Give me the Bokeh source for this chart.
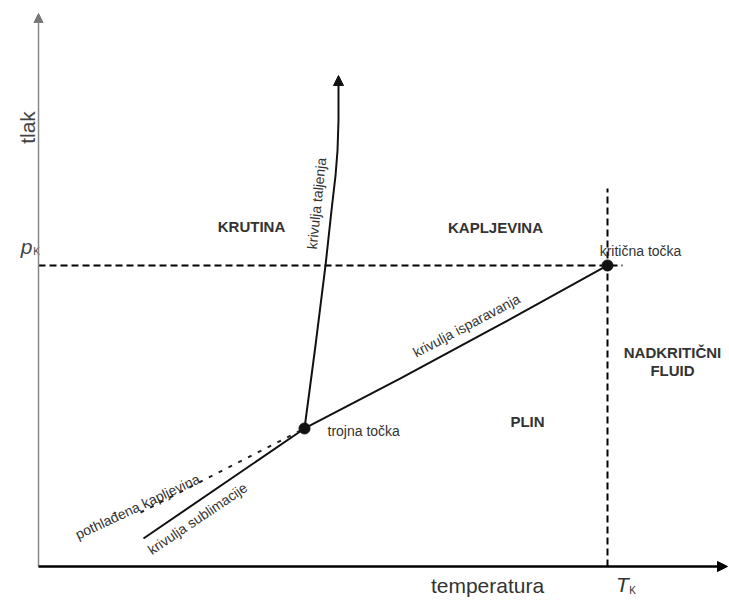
from bokeh.plotting import figure
from bokeh.models import Range1d, Arrow, NormalHead
from bokeh.core.properties import value
from bokeh.embed import file_html
from bokeh.resources import INLINE

# Normalised units: temperature T / T_K, pressure p / p_K
triple_T, triple_p = 0.4675, 0.4585
crit_T, crit_p = 1.0, 1.0

melt_T = [0.4675, 0.4868, 0.5044, 0.5149, 0.5220, 0.5255, 0.5272, 0.5272]
melt_p = [0.4585, 0.7342, 1.0000, 1.1827, 1.2990, 1.3821, 1.4817, 1.6146]
melt_tip = (0.5272, 1.6312)

vap_T = [0.4675, 0.6362, 0.8120, 1.0]
vap_p = [0.4585, 0.6246, 0.8040, 1.0]

sub_T = [0.4675, 0.1845]
sub_p = [0.4585, 0.0930]

supercool_T = [0.4605, 0.1793]
supercool_p = [0.4518, 0.1794]

pk_line_T = [0.0, 1.0264]
pk_line_p = [1.0, 1.0]
tk_line_T = [1.0, 1.0]
tk_line_p = [0.0, 1.2558]

axis_T_end = 1.2109
axis_p_end = 1.8372

region_labels = ["KRUTINA", "KAPLJEVINA", "PLIN", "NADKRITIČNI", "FLUID"]
region_T = [0.3743, 0.8032, 0.8594, 1.1142, 1.1142]
region_p = [1.1296, 1.1262, 0.4817, 0.7110, 0.6512]

point_labels = ["kritična točka", "trojna točka"]
point_T = [1.0580, 0.5079]
point_p = [1.0465, 0.4485]
point_align = ["center", "left"]

curve_labels = ["krivulja taljenja", "krivulja isparavanja",
                "pothlađena kapljevina", "krivulja sublimacije"]
curve_T = [0.4886, 0.7522, 0.1740, 0.2794]
curve_p = [1.2060, 0.8007, 0.1993, 0.1595]
curve_angle = [84, 28, 25, 34]

W, H = 729, 600
p = figure(width=W, height=H, output_backend="svg", toolbar_location=None,
           x_range=Range1d(-0.0668, 1.2144), y_range=Range1d(-0.1130, 1.8804),
           min_border=0, background_fill_color="white", border_fill_color="white")
p.axis.visible = False
p.grid.visible = False
p.outline_line_color = None

font = value("Liberation Sans")
txt_col = "#333333"

# axes with arrows
p.add_layout(Arrow(end=NormalHead(size=9, fill_color="#777777", line_color="#777777"),
                   x_start=0, y_start=0, x_end=0, y_end=axis_p_end,
                   line_color="#888888", line_width=1.5))
p.add_layout(Arrow(end=NormalHead(size=10, fill_color="black", line_color="black"),
                   x_start=0, y_start=0, x_end=axis_T_end, y_end=0,
                   line_color="black", line_width=2.5))

# dashed critical lines
p.line(pk_line_T, pk_line_p, line_color="black", line_width=2, line_dash="7 4")
p.line(tk_line_T, tk_line_p, line_color="black", line_width=2, line_dash="7 4")

# curves
p.line(melt_T, melt_p, line_color="#111111", line_width=2)
p.add_layout(Arrow(end=NormalHead(size=10, fill_color="#111111", line_color="#111111"),
                   x_start=melt_T[-1], y_start=melt_p[-1], x_end=melt_tip[0], y_end=melt_tip[1],
                   line_color="#111111", line_width=2))
p.line(vap_T, vap_p, line_color="#111111", line_width=2)
p.line(sub_T, sub_p, line_color="#111111", line_width=2)
p.line(supercool_T, supercool_p, line_color="#222222", line_width=2, line_dash="4 7")

p.scatter([triple_T, crit_T], [triple_p, crit_p], size=11, color="#111111")

# labels
p.text(region_T, region_p, text=region_labels, text_font=font, text_font_style="bold",
       text_font_size="15px", text_align="center", text_baseline="middle", text_color=txt_col)
p.text(point_T, point_p, text=point_labels, text_font=font, text_font_size="14px",
       text_align=point_align, text_baseline="middle", text_color=txt_col)
p.text(curve_T, curve_p, text=curve_labels, angle=curve_angle, angle_units="deg",
       text_font=font, text_font_size="14px", text_align="center", text_baseline="middle",
       text_color=txt_col)

# axis titles
p.text([-0.0193], [1.4584], text=["tlak"], angle=90, angle_units="deg", text_font=font,
       text_font_size="21px", text_align="center", text_baseline="middle", text_color="#444444")
p.text([0.7891], [-0.0631], text=["temperatura"], text_font=font, text_font_size="21px",
       text_align="center", text_baseline="middle", text_color="#333333")
p.text([-0.0210], [1.0631], text=["p"], text_font=font, text_font_style="italic",
       text_font_size="21px", text_align="center", text_baseline="middle", text_color="#444444")
p.text([-0.0035], [1.0465], text=["K"], text_font=font,
       text_font_size="10px", text_align="center", text_baseline="middle", text_color="#444444")
p.text([1.0264], [-0.0598], text=["T"], text_font=font, text_font_style="italic",
       text_font_size="21px", text_align="center", text_baseline="middle", text_color="#333333")
p.text([1.0439], [-0.0797], text=["K"], text_font=font,
       text_font_size="10px", text_align="center", text_baseline="middle", text_color="#333333")

open("out.html", "w").write(file_html(p, INLINE))
